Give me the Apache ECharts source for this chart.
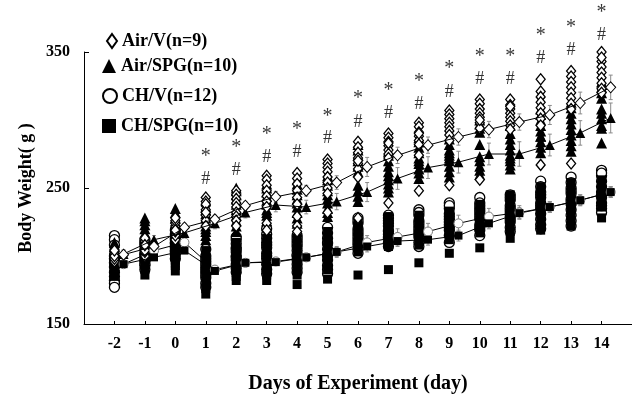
<!DOCTYPE html>
<html>
<head>
<meta charset="utf-8">
<script src="https://cdn.jsdelivr.net/npm/echarts@6/dist/echarts.min.js"></script>
<style>
html,body{margin:0;padding:0;background:#fff}
#chart{width:632px;height:394px}
</style>
</head>
<body>
<div id="chart"></div>
<script>
// days of experiment
var days = [-2,-1,0,1,2,3,4,5,6,7,8,9,10,11,12,13,14];
var yTicks = [150,250,350];
var groupNames = ['Air/V(n=9)','Air/SPG(n=10)','CH/V(n=12)','CH/SPG(n=10)'];

// individual animals, one row per day
var airV = [
 [196,199,201,203,205,198,202,200,204],
 [200,203,205,207,209,211,213,204,208],
 [212,215,218,220,222,224,226,228,219],
 [243,240,237,234,230,226,222,238,232],
 [248,245,242,239,236,232,229,226,222],
 [259,256,252,248,244,240,224,219,236],
 [261,257,253,248,243,238,229,222,218],
 [271,268,265,262,258,254,250,246,232],
 [284,280,276,272,268,264,258,228,270],
 [290,287,284,281,278,275,239,272,283],
 [298,295,291,288,285,282,274,248,290],
 [307,304,301,298,295,292,289,252,285],
 [315,312,308,305,302,298,294,256,300],
 [315,311,308,305,302,299,296,293,310],
 [330,321,317,313,309,305,301,267,296],
 [336,332,328,324,320,316,312,268,308],
 [350,343,339,335,331,327,323,320,346]
];
var airSPG = [
 [193,197,200,202,205,207,199,203,210,196],
 [200,205,208,211,214,217,220,223,226,228],
 [205,208,212,215,218,221,224,228,232,235],
 [212,215,218,222,225,228,231,234,220,236],
 [218,222,226,230,234,238,242,245,248,250],
 [226,230,234,238,241,244,247,250,253,232],
 [224,228,232,236,239,242,245,249,253,256],
 [229,232,235,239,242,245,248,252,256,259],
 [240,244,248,252,262,266,270,274,278,282],
 [247,250,253,256,259,262,266,270,274,277],
 [257,261,264,268,272,276,280,284,287,270],
 [258,262,266,270,274,278,282,286,272,276],
 [260,263,266,270,273,282,291,294,297,300],
 [264,267,270,274,278,282,286,290,296,272],
 [276,280,284,288,292,296,300,304,308,288],
 [277,281,285,289,293,297,301,305,309,313],
 [283,294,296,305,308,316,320,324,328,301]
];
var chV = [
 [215,212,208,198,192,188,185,182,180,177,195,200],
 [190,193,196,199,202,205,208,210,197,201,212,194],
 [198,201,204,207,210,213,216,219,203,209,206,212],
 [205,200,196,192,188,184,180,177,194,190,186,198],
 [212,209,206,203,200,197,194,191,188,214,205,199],
 [216,213,210,206,202,198,194,190,187,220,200,208],
 [215,211,207,204,200,197,194,191,188,213,201,209],
 [221,217,213,209,205,201,197,193,190,187,210,200],
 [228,224,220,216,212,208,205,202,226,218,210,214],
 [230,226,222,219,216,213,210,207,228,224,218,214],
 [234,230,226,222,218,214,210,207,232,224,216,220],
 [239,235,231,227,223,219,215,210,237,229,221,225],
 [243,239,235,231,227,223,219,215,237,229,221,233],
 [245,241,237,233,229,225,221,218,243,235,227,231],
 [255,251,247,243,239,235,231,227,223,220,245,237],
 [258,254,250,246,242,238,234,230,226,222,248,240],
 [263,259,255,251,247,243,239,235,232,261,245,237]
];
var chSPG = [
 [185,188,190,193,195,197,199,201,203,192],
 [186,190,193,196,199,201,204,207,209,197],
 [189,193,197,200,203,206,209,212,215,195],
 [172,176,180,184,188,192,196,200,204,190],
 [182,185,188,191,194,197,200,203,206,210],
 [182,186,190,194,198,202,206,210,213,192],
 [179,186,190,194,198,202,206,210,213,196],
 [183,190,194,198,202,206,210,214,218,198],
 [186,203,206,209,212,215,218,221,224,210],
 [190,207,210,213,216,219,222,225,229,215],
 [195,208,212,215,218,221,224,227,230,216],
 [202,212,215,218,221,224,227,230,233,220],
 [206,217,220,223,226,229,232,235,238,224],
 [213,218,222,226,230,234,238,242,245,228],
 [219,223,227,231,235,239,243,247,251,233],
 [222,226,230,234,238,242,246,250,254,236],
 [228,236,240,244,248,252,256,250,246,242]
];

// group means and SEM
var airVMean  = [201,207,221,227,237,243.5,248,254,265.5,274,281.5,287.5,293,298.5,303.7,312.5,324];
var airVErr   = [3,3,3,3,3,4,4,5,7,6,6,6,6,6,7,8,9];
var airSPGMean= [201.5,212,217,224,232,237.5,236,240,247,257,265,269,275,275,281.6,290.5,301.5];
var airSPGErr = [3,3,3,4,4,5,5,6,7,8,8,8,8,9,8,9,11];
var chVMean   = [194,204,210,190,195,196,199,203,210,214,218,224,229,232,236,241,247];
var chVErr    = [2,3,3,3,3,3,3,4,5,6,6,6,6,5,4,4,4];
var chSPGMean = [194,199,204,189,195,195.5,199,203,207,211,212,215,224,231.5,236,241,247];
var chSPGErr  = [2,2,2,2,2,2,2,3,4,4,4,4,4,4,4,4,4];

// significance marks (* and #)
var markDays = [1,2,3,4,5,6,7,8,9,10,11,12,13,14];
var starY = [272.8,279.4,289,292.6,302.2,315.4,321.3,328,337.5,346.3,346.3,361.8,367.6,378.7];
var hashY = [256.6,263.2,272.8,276.5,286.8,298.5,305.1,311.8,320.6,330.1,330.1,345.6,351.5,362.5];

var SHIFT = 0.3;
var FONT = '"Liberation Serif","Times New Roman",serif';

function points(rows){
	var out=[];
	rows.forEach(function(r,i){
		r.forEach(function(v){ out.push([days[i],v]); });
	});
	return out;
}
function means(m){
	return m.map(function(v,i){ return [days[i]+SHIFT,v]; });
}
function bars(m,e){
	return m.map(function(v,i){ return [days[i]+SHIFT,v-e[i],v+e[i]]; });
}
function renderErr(params, api){
	var x=api.value(0);
	var lo=api.coord([x,api.value(1)]);
	var hi=api.coord([x,api.value(2)]);
	var w=2;
	var st={stroke:'#8a8a8a',lineWidth:1};
	return {type:'group',children:[
		{type:'line',shape:{x1:lo[0],y1:lo[1],x2:hi[0],y2:hi[1]},style:st},
		{type:'line',shape:{x1:lo[0]-w,y1:lo[1],x2:lo[0]+w,y2:lo[1]},style:st},
		{type:'line',shape:{x1:hi[0]-w,y1:hi[1],x2:hi[0]+w,y2:hi[1]},style:st}
	]};
}
function marks(ys,txt,size){
	return {
		type:'scatter',silent:true,clip:false,symbolSize:0,z:5,
		data:ys.map(function(v,i){ return [markDays[i],v]; }),
		label:{show:true,position:'inside',formatter:txt,color:'#000',fontFamily:FONT,fontSize:size}
	};
}

var open={color:'#fff',borderColor:'#000',borderWidth:1.3,opacity:1};
var fill={color:'#000',opacity:1};
var icons=['diamond','triangle','circle','rect'];

var myChart = echarts.init(document.getElementById('chart'));
var option = {
	animation:false,
	grid:{left:84,right:0,top:52,bottom:70,containLabel:false,outerBoundsMode:'none'},
	legend:groupNames.map(function(n,i){
		return {
			data:[{name:n,icon:icons[i]}],
			left:i==0?101:97,top:[27,52,82,112][i],
			itemWidth:i==0?10:14,itemHeight:14,itemGap:0,
			textStyle:{fontFamily:FONT,fontWeight:'bold',fontSize:18,color:'#000'},
			selectedMode:false
		};
	}),
	xAxis:{
		type:'value',min:-3,max:15,
		name:'Days of Experiment (day)',nameLocation:'middle',nameGap:50,
		nameTextStyle:{fontFamily:FONT,fontWeight:'bold',fontSize:20,color:'#000'},
		axisLine:{lineStyle:{color:'#000',width:1}},
		axisTick:{inside:true,length:3,customValues:days,lineStyle:{color:'#000'}},
		axisLabel:{customValues:days,margin:12,fontFamily:FONT,fontWeight:'bold',fontSize:16,color:'#000'},
		splitLine:{show:false}
	},
	yAxis:{
		type:'value',min:150,max:350,
		name:'Body Weight( g )',nameLocation:'middle',nameGap:47,
		nameTextStyle:{fontFamily:FONT,fontWeight:'bold',fontSize:18,color:'#000'},
		axisLine:{show:true,onZero:false,lineStyle:{color:'#000',width:1}},
		axisTick:{show:true,inside:true,length:5,customValues:yTicks,lineStyle:{color:'#000'}},
		axisLabel:{customValues:yTicks,margin:14,fontFamily:FONT,fontWeight:'bold',fontSize:16,color:'#000'},
		splitLine:{show:false}
	},
	series:[
		{name:groupNames[2],type:'scatter',symbol:'circle',symbolSize:10,data:points(chV),itemStyle:open,z:2},
		{name:groupNames[3],type:'scatter',symbol:'rect',symbolSize:9,data:points(chSPG),itemStyle:fill,z:2},
		{name:groupNames[1],type:'scatter',symbol:'triangle',symbolSize:11,data:points(airSPG),itemStyle:fill,z:2},
		{name:groupNames[0],type:'scatter',symbol:'diamond',symbolSize:[9,11],data:points(airV),itemStyle:open,z:2},

		{type:'custom',renderItem:renderErr,data:bars(chVMean,chVErr),z:3,silent:true},
		{type:'custom',renderItem:renderErr,data:bars(chSPGMean,chSPGErr),z:3,silent:true},
		{type:'custom',renderItem:renderErr,data:bars(airSPGMean,airSPGErr),z:3,silent:true},
		{type:'custom',renderItem:renderErr,data:bars(airVMean,airVErr),z:3,silent:true},

		{name:'mCHV',type:'line',data:means(chVMean),symbol:'circle',symbolSize:9,showAllSymbol:true,
			lineStyle:{color:'#000',width:1},itemStyle:{color:'#fff',borderColor:'#777',borderWidth:1},z:4},
		{name:'mCHSPG',type:'line',data:means(chSPGMean),symbol:'rect',symbolSize:8,showAllSymbol:true,
			lineStyle:{color:'#000',width:1},itemStyle:{color:'#000'},z:4},
		{name:'mAirSPG',type:'line',data:means(airSPGMean),symbol:'triangle',symbolSize:10,showAllSymbol:true,
			lineStyle:{color:'#000',width:1},itemStyle:{color:'#000'},z:4},
		{name:'mAirV',type:'line',data:means(airVMean),symbol:'diamond',symbolSize:[10,11],showAllSymbol:true,
			lineStyle:{color:'#000',width:1},itemStyle:{color:'#fff',borderColor:'#000',borderWidth:1},z:4},

		marks(starY,'*',20),
		marks(hashY,'#',18)
	]
};
myChart.setOption(option);
</script>
</body>
</html>
